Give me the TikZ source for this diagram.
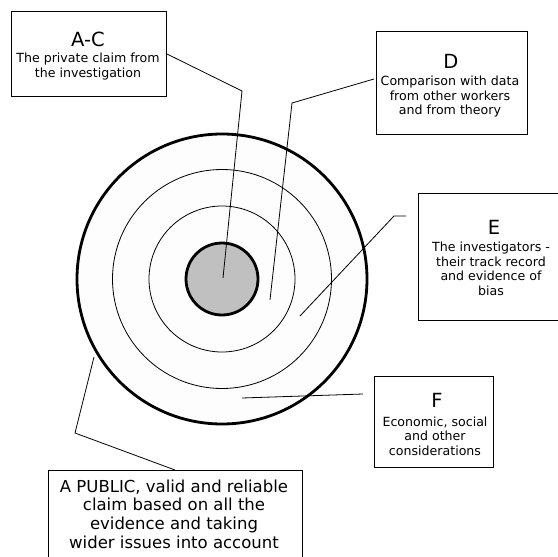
\documentclass[tikz,border=0pt]{standalone}
\usepackage{fontspec}
\setmainfont{DejaVu Sans}
\definecolor{ringfill}{RGB}{253,253,253}
\definecolor{corefill}{RGB}{192,192,192}
\begin{document}
\begin{tikzpicture}[x=1pt,y=-1pt,
  ring/.style={circle, draw, inner sep=0pt, outer sep=0pt, fill=ringfill},
  boxed/.style={draw, line width=0.9pt, inner sep=0pt, outer sep=0pt, fill=white, rectangle},
  head/.style={font=\fontsize{19.5}{22}\selectfont, inner sep=0pt},
  body/.style={font=\fontsize{12.6}{14.5}\selectfont, align=center, inner sep=0pt},
  pubtext/.style={font=\fontsize{16.5}{18.7}\selectfont, align=center, inner sep=0pt},
  lead/.style={line width=0.8pt}
]
\useasboundingbox (0,0) rectangle (558,557);

% concentric rings, outermost first
\node[ring, line width=2.8pt, minimum size=290pt] (r4) at (222,279) {};
\node[ring, line width=0.8pt, minimum size=219pt] (r3) at (222,279) {};
\node[ring, line width=0.8pt, minimum size=146pt] (r2) at (222,279) {};
\node[ring, line width=2.8pt, minimum size=72pt, fill=corefill] (r1) at (222,279) {};

% label boxes
\node[boxed, minimum width=155pt, minimum height=85pt] (ac) at (88.5,53.5) {};
\node[boxed, minimum width=151pt, minimum height=103pt] (d) at (451.5,82.5) {};
\node[boxed, minimum width=142pt, minimum height=127pt] (e) at (489,256.5) {};
\node[boxed, minimum width=119pt, minimum height=91pt] (f) at (433.5,421.5) {};
\node[boxed, minimum width=254pt, minimum height=100pt] (pub) at (175,520) {};

% box texts
\node[head] (achead) at (88,39) {A-C};
\node[body] (acbody) at (88,66.5) {The private claim from\\the investigation};
\node[head] (dhead) at (451,61) {D};
\node[body] (dbody) at (450,97) {Comparison with data\\from other workers\\and from theory};
\node[head] (ehead) at (494,227) {E};
\node[body] (ebody) at (491,269) {The investigators -\\their track record\\and evidence of\\bias};
\node[head] (fhead) at (437,400) {F};
\node[body] (fbody) at (435,436) {Economic, social\\and other\\considerations};
\node[pubtext] (pubbody) at (174,514) {A PUBLIC, valid and reliable\\claim based on all the\\evidence and taking\\wider issues into account};

% free ends of the leader lines
\coordinate (acend) at (223,278);
\coordinate (dstart) at (374,79);
\coordinate (dend) at (270,300);
\coordinate (estart) at (406,216);
\coordinate (eend) at (300,316);
\coordinate (fstart) at (363,394);
\coordinate (fend) at (242,398);
\coordinate (pubstart) at (94,357);

% leader lines
\draw[lead] (ac.east) -- (242,91) -- (acend);
\draw[lead] (dstart) -- (292,103) -- (dend);
\draw[lead] (estart) -- (394,216) -- (eend);
\draw[lead] (fstart) -- (fend);
\draw[lead] (pubstart) -- (75,433) -- (pub.north);
\end{tikzpicture}
\end{document}
